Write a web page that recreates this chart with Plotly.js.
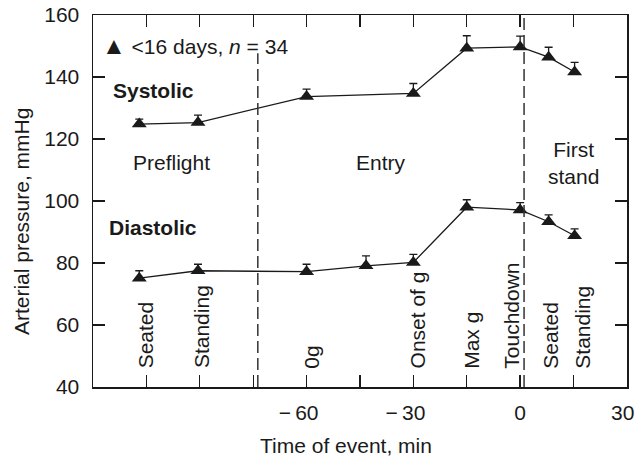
<!DOCTYPE html>
<html>
<head>
<meta charset="utf-8">
<script src="https://cdn.plot.ly/plotly-3.0.1.min.js"></script>
<style>
  html, body { margin: 0; padding: 0; background: #ffffff; }
  #chart { width: 637px; height: 458px; }
</style>
</head>
<body>
<div id="chart"></div>
<script>
// ---- data ----
const systolicTime  = [-107, -90.5, -60, -30, -15, 0, 8, 15.3];
const systolicValue = [124.8, 125.3, 133.7, 134.7, 149.3, 149.7, 146.4, 141.6];
const systolicErr   = [1.6, 2.4, 2.4, 3.2, 4.0, 3.5, 3.2, 3.1];

const diastolicTime  = [-107, -90.5, -60, -43.3, -30, -15, 0, 8, 15.3];
const diastolicValue = [75.1, 77.5, 77.2, 79.1, 80.2, 98.0, 97.1, 93.3, 88.8];
const diastolicErr   = [2.4, 2.1, 2.4, 3.2, 2.6, 2.4, 2.4, 2.2, 2.2];

const eventLabels = ['Seated', 'Standing', '0g', 'Onset of g', 'Max g', 'Touchdown', 'Seated', 'Standing'];
const eventTime   = [-107, -90.5, -60, -30, -15, 0, 8, 15.3];

const xTickVals = [-105, -90, -75, -60, -45, -30, -15, 0, 15, 30];
const xTickText = ['', '', '', '\u2212\u200960\u2007\u2009', '', '\u2212\u200930\u2007\u2009', '', '0', '', ''];
const xEdgeTickLabel = { value: 30, text: '30' };
const yTickVals = [40, 60, 80, 100, 120, 140, 160];

const phaseBoundaries = [-73.7, 1.1];

// ---- styling ----
const FONT = 'Liberation Sans, Arial, Helvetica, sans-serif';
const INK = '#1a1a1a';
const FS = 21;

function seriesTrace(x, y, err) {
  return {
    x: x, y: y, type: 'scatter', mode: 'lines+markers',
    line: { color: INK, width: 1.3 },
    marker: { symbol: 'triangle-up', size: 13, color: INK },
    error_y: {
      type: 'data', symmetric: false, array: err,
      arrayminus: err.map(() => 0),
      color: INK, thickness: 1.3, width: 4
    },
    showlegend: false, hoverinfo: 'x+y'
  };
}

const traces = [
  seriesTrace(systolicTime, systolicValue, systolicErr),
  seriesTrace(diastolicTime, diastolicValue, diastolicErr)
];

const labelShift = [6, 3, 4, 4, 4, -9, 1, 7];
const annotations = eventLabels.map((t, i) => ({
  text: t, x: eventTime[i], y: 45.3, xref: 'x', yref: 'y',
  xanchor: 'center', yanchor: 'bottom', textangle: -90,
  xshift: labelShift[i], showarrow: false,
  font: { family: FONT, size: FS, color: INK }
}));

annotations.push(
  { text: xEdgeTickLabel.text, x: xEdgeTickLabel.value, y: -0.0695, xref: 'x', yref: 'paper',
    xanchor: 'center', yanchor: 'middle', xshift: -4, showarrow: false,
    font: { family: FONT, size: FS, color: INK } },
  { text: '<span style="font-size:24px">\u25B2</span> &lt;16 days, <i>n</i> = 34',
    x: -118, y: 150.3, xref: 'x', yref: 'y', xanchor: 'left', yanchor: 'middle',
    showarrow: false, font: { family: FONT, size: FS, color: INK } },
  { text: '<b>Systolic</b>', x: -114.9, y: 135.8, xref: 'x', yref: 'y',
    xanchor: 'left', yanchor: 'middle', showarrow: false,
    font: { family: FONT, size: FS, color: INK } },
  { text: '<b>Diastolic</b>', x: -116, y: 91.3, xref: 'x', yref: 'y',
    xanchor: 'left', yanchor: 'middle', showarrow: false,
    font: { family: FONT, size: FS, color: INK } },
  { text: 'Preflight', x: -98, y: 112.4, xref: 'x', yref: 'y',
    xanchor: 'center', yanchor: 'middle', showarrow: false,
    font: { family: FONT, size: FS, color: INK } },
  { text: 'Entry', x: -39.1, y: 112.4, xref: 'x', yref: 'y',
    xanchor: 'center', yanchor: 'middle', showarrow: false,
    font: { family: FONT, size: FS, color: INK } },
  { text: 'First<br>stand', x: 15.1, y: 112.4, xref: 'x', yref: 'y',
    xanchor: 'center', yanchor: 'middle', showarrow: false,
    font: { family: FONT, size: FS, color: INK } },
  { text: 'Arterial pressure, mmHg', x: -0.1348, y: 0.446, xref: 'paper', yref: 'paper',
    xanchor: 'center', yanchor: 'middle', textangle: -90, showarrow: false,
    font: { family: FONT, size: FS, color: INK } },
  { text: 'Time of event, min', x: 0.4747, y: -0.1578, xref: 'paper', yref: 'paper',
    xanchor: 'center', yanchor: 'middle', showarrow: false,
    font: { family: FONT, size: FS, color: INK } }
);

const shapes = [
  { type: 'line', xref: 'x', yref: 'y', x0: phaseBoundaries[0], x1: phaseBoundaries[0], y0: 40, y1: 147.7,
    line: { color: '#333', width: 1.5, dash: '12px,5px' } },
  { type: 'line', xref: 'x', yref: 'y', x0: phaseBoundaries[1], x1: phaseBoundaries[1], y0: 40, y1: 160,
    line: { color: '#333', width: 1.5, dash: '12px,5px' } }
];

const layout = {
  width: 637, height: 458,
  margin: { l: 93, r: 10.3, t: 15, b: 71, pad: 0 },
  paper_bgcolor: '#ffffff', plot_bgcolor: '#ffffff',
  font: { family: FONT, size: FS, color: INK },
  showlegend: false,
  xaxis: {
    range: [-120, 30.02], tickmode: 'array', tickvals: xTickVals, ticktext: xTickText,
    ticks: 'inside', ticklen: 12, tickwidth: 1.3, tickcolor: INK,
    showline: true, linecolor: INK, linewidth: 1.5, mirror: 'ticks',
    showgrid: false, zeroline: false,
    tickfont: { family: FONT, size: FS, color: INK },
    ticklabelstandoff: 6
  },
  yaxis: {
    range: [40, 160], tickmode: 'array', tickvals: yTickVals,
    ticks: 'inside', ticklen: 12, tickwidth: 1.3, tickcolor: INK,
    showline: true, linecolor: INK, linewidth: 1.5, mirror: 'ticks',
    showgrid: false, zeroline: false,
    tickfont: { family: FONT, size: FS, color: INK },
    ticklabelstandoff: 8
  },
  annotations: annotations,
  shapes: shapes
};

Plotly.newPlot('chart', traces, layout, { displayModeBar: false, staticPlot: true });
</script>
</body>
</html>
